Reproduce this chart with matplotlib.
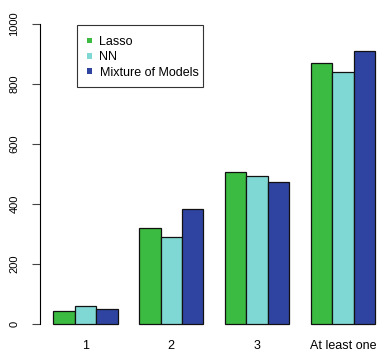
import numpy as np
import matplotlib.pyplot as plt
from matplotlib.patches import Rectangle

plt.rcParams['font.family'] = ['Liberation Sans', 'DejaVu Sans']

groups = ["1", "2", "3", "At least one"]
series = ["Lasso", "NN", "Mixture of Models"]
lasso = [43, 320, 507, 871]
nn = [59, 289, 493, 840]
mixture = [51, 384, 473, 909]
colors = ["#3bbb41", "#80d8d5", "#2f44a0"]

W, H = 377, 353
fig = plt.figure(figsize=(W / 100, H / 100), dpi=100)
# plot region like R's barplot: x from 0.4 to 16.6, y from -40 to 1040
ax = fig.add_axes([40.4 / W, 17 / H, (387.9 - 40.4) / W, (336 - 12) / H])

# beside=TRUE layout: bars of width 1, one unit gap between groups
values = [lasso, nn, mixture]
for g in range(len(groups)):
    for s in range(len(series)):
        left = 1 + 4 * g + s
        ax.bar(left, values[s][g], width=1, align="edge", color=colors[s],
               edgecolor="#111111", linewidth=0.9)

ax.set_xlim(0.4, 16.6)
ax.set_ylim(-40, 1040)

centers = [2.5 + 4 * g for g in range(len(groups))]
ax.set_xticks(centers)
ax.set_xticklabels(groups, fontsize=9)
ax.tick_params(axis="x", length=0, pad=3)

ax.set_yticks([0, 200, 400, 600, 800, 1000])
ax.set_yticklabels(["0", "200", "400", "600", "800", "1000"], rotation=90,
                   va="center", fontsize=8)
ax.tick_params(axis="y", length=6, width=0.8, color="#444444", pad=9)

for side in ["top", "right", "bottom"]:
    ax.spines[side].set_visible(False)
ax.spines["left"].set_bounds(0, 1000)
ax.spines["left"].set_linewidth(0.8)

# legend box drawn in pixel coordinates of the figure
def px(x, y):
    return x / W, 1 - y / H

x0, y0 = px(77, 87)
x1, y1 = px(203, 25)
fig.patches.append(Rectangle((x0, y0), x1 - x0, y1 - y0, transform=fig.transFigure,
                             facecolor="white", edgecolor="#333333", linewidth=0.8,
                             zorder=5))
for i, (name, c) in enumerate(zip(series, colors)):
    yc = 40.7 + 15.2 * i
    sx, sy = px(86.5, yc + 2.6)
    fig.patches.append(Rectangle((sx, sy), 5.4 / W, 5.4 / H, transform=fig.transFigure,
                                 facecolor=c, edgecolor="none", zorder=6))
    tx, ty = px(99.5, yc)
    fig.text(tx, ty, name, fontsize=9, ha="left", va="center_baseline", zorder=7)

fig.savefig("out.png", dpi=100)
